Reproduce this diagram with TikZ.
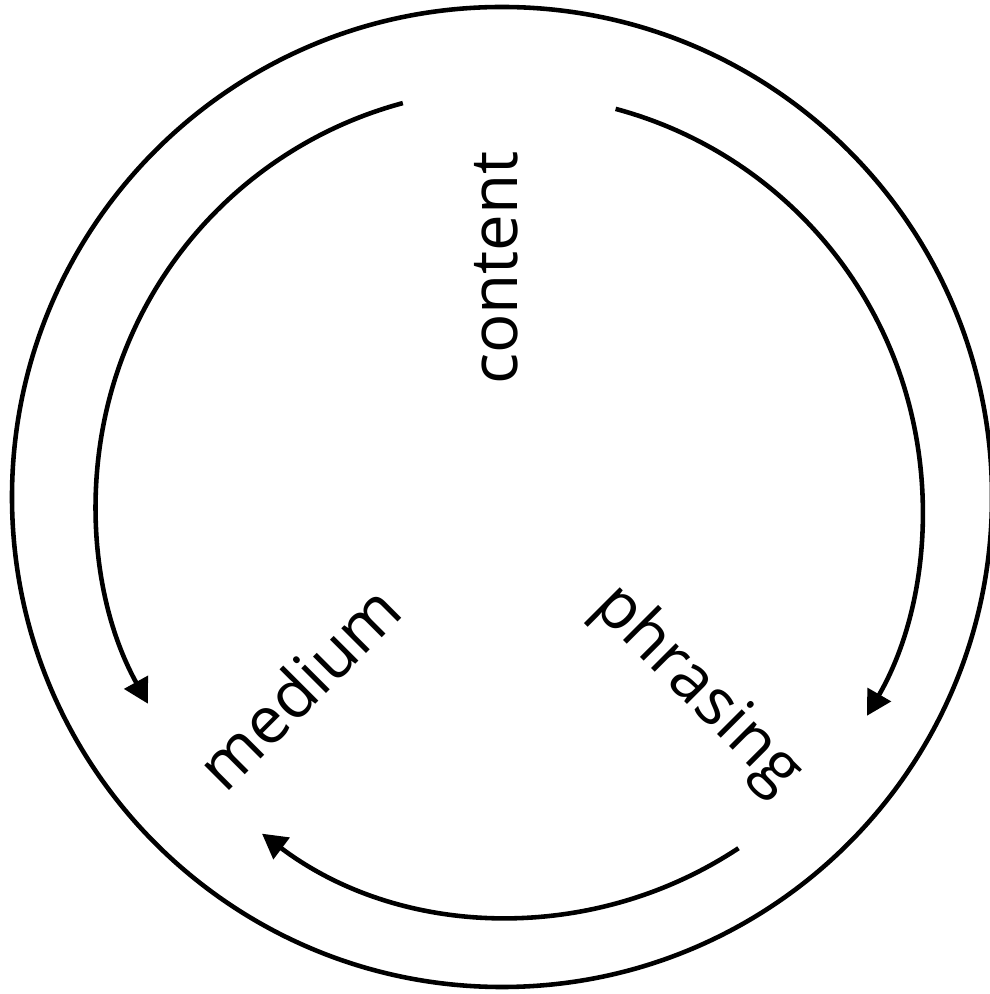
\documentclass[tikz,border=0pt]{standalone}
\usepackage{fontspec}
\setmainfont{Open Sans}
\usetikzlibrary{arrows.meta}

\begin{document}
\begin{tikzpicture}[line width=1.3pt,
          stage/.style={font=\fontsize{18.6}{22}\selectfont,inner sep=0pt},
          flow/.style={-{Triangle[length=7pt,width=7.5pt]}}]
        \useasboundingbox (-5.02,-4.97) rectangle (4.87,4.97);
        \coordinate (hub) at (0.08,-0.06);
        \draw (0,0) circle[radius=4.90];
        % the three stages
        \node[stage,rotate=90] (content) at (-0.06,2.29) {content};
        \node[stage,rotate=45] (medium) at (-2.04,-1.90) {medium};
        \node[stage,rotate=-45] (phrasing) at (1.95,-1.93) {phrasing};
        % arrows running round the cycle
        \draw[flow] ([shift={(hub)}]105:4.14) arc[start angle=105,end angle=209,radius=4.14];
        \draw[flow] ([shift={(hub)}]75:4.08) arc[start angle=75,end angle=-30,radius=4.14];
        \draw[flow] ([shift={(hub)}]-56.5:4.14) arc[start angle=-56.5,end angle=-127,radius=4.13];
      \end{tikzpicture}
\end{document}
